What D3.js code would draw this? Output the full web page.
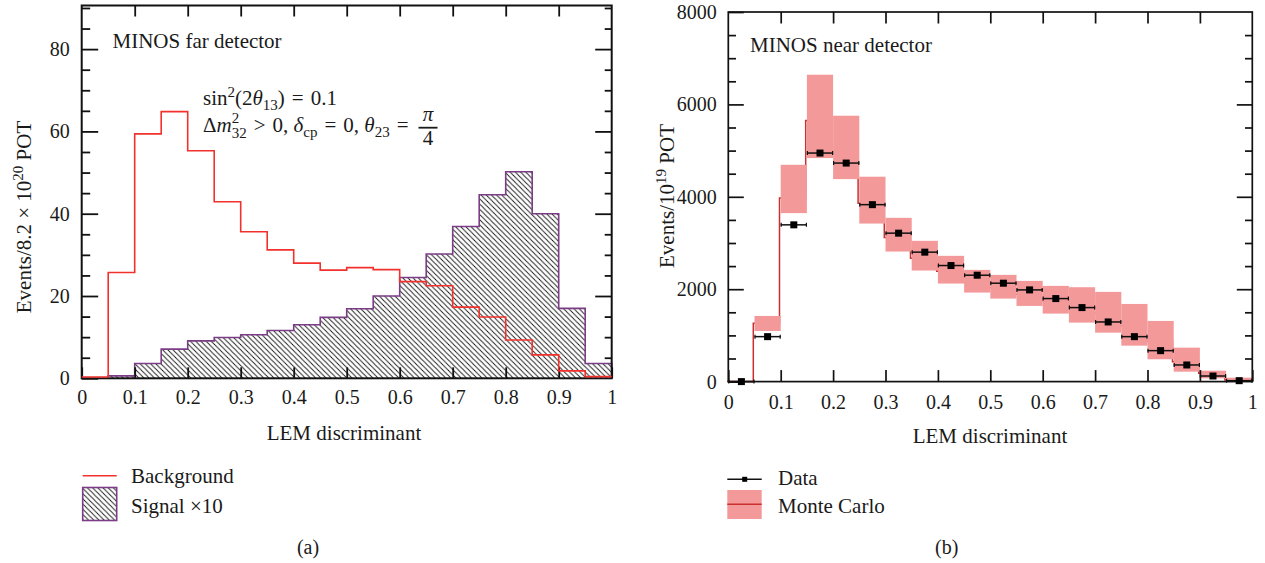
<!DOCTYPE html>
<html>
<head>
<meta charset="utf-8">
<script src="https://cdn.jsdelivr.net/npm/d3@7"></script>
<style>
  html, body { margin: 0; padding: 0; background: #fff; }
  svg { display: block; }
  text { font-family: 'Liberation Serif', 'Times New Roman', serif; fill: #1a1a1a; }
</style>
</head>
<body>
<svg id="chart" width="1265" height="563"></svg>
<script>
// LEM discriminant bins (width 0.05)
const binEdges = d3.range(0, 20).map(i => +(i * 0.05).toFixed(2));
const binWidth = 0.05;

// (a) MINOS far detector, events / 8.2e20 POT
const farBackground = [0.3, 25.7, 59.4, 64.8, 55.3, 42.9, 35.6, 31.2, 28.0, 26.3,
                       26.9, 26.4, 23.5, 22.5, 17.3, 14.9, 9.3, 5.7, 1.8, 0.4];
const farSignalX10 = [0, 0.6, 3.6, 7.1, 9.1, 9.9, 10.6, 11.6, 13.0, 14.8,
                      16.9, 20.0, 24.5, 30.2, 36.9, 44.6, 50.2, 40.0, 17.0, 3.6];

// (b) MINOS near detector, events / 1e19 POT
const nearData = [0, 973, 3393, 4947, 4730, 3830, 3213, 2802, 2512, 2303,
                  2130, 1985, 1797, 1602, 1291, 973, 670, 360, 121, 20];
const nearMC = [0, 1263, 3974, 5653, 5000, 3863, 3120, 2672, 2390, 2150,
                2030, 1890, 1750, 1640, 1480, 1210, 880, 430, 180, 35];
const nearMCLow = [0, 1096, 3647, 4838, 4383, 3421, 2815, 2404, 2122, 1927,
                   1797, 1638, 1472, 1277, 1060, 778, 483, 215, 71, 0];
const nearMCHigh = [0, 1421, 4693, 6642, 5755, 4435, 3545, 3047, 2722, 2418,
                    2310, 2180, 2072, 2043, 1942, 1681, 1313, 735, 236, 85];

// Axis ticks
const xTicks = [0, 0.1, 0.2, 0.3, 0.4, 0.5, 0.6, 0.7, 0.8, 0.9, 1];
const xTickLabels = ["0", "0.1", "0.2", "0.3", "0.4", "0.5", "0.6", "0.7", "0.8", "0.9", "1"];
const farYMajor = [0, 20, 40, 60, 80];
const farYMajorLabels = ["0", "20", "40", "60", "80"];
const farYMinor = d3.range(0, 91, 5).filter(v => v % 20 !== 0);
const farYMax = 90.6;
const nearYMajor = [0, 2000, 4000, 6000, 8000];
const nearYMajorLabels = ["0", "2000", "4000", "6000", "8000"];
const nearYMinor = d3.range(0, 8001, 500).filter(v => v % 2000 !== 0);

const svg = d3.select("#chart");
const RED = "#f2302c";
const PURPLE = "#7b3d86";
const MC_RED = "#c9302f";
const BAND = "#f4999a";
const SP = "\u2004"; // math-style spacing around relations

// hatch pattern for the signal histogram
const defs = svg.append("defs");
const pat = defs.append("pattern")
  .attr("id", "hatch").attr("patternUnits", "userSpaceOnUse")
  .attr("width", 5.2).attr("height", 5.2);
pat.append("path")
  .attr("d", "M-1,-1 L6.2,6.2 M3.7,-1.5 L6.7,1.5 M-1.5,3.7 L1.5,6.7")
  .attr("stroke", "#111").attr("stroke-width", 0.9);

function drawFrame(g, x, y, opt) {
  const [x0, x1] = x.range();
  const [y0, y1] = y.range();
  const fmt = (labels, ticks) => d => labels[ticks.indexOf(d)];
  // bottom axis (labels + inward ticks)
  const bottom = g.append("g").attr("transform", `translate(0,${y0})`)
    .call(d3.axisBottom(x).tickValues(xTicks).tickFormat(fmt(xTickLabels, xTicks))
      .tickSizeInner(-opt.xTick).tickSizeOuter(0).tickPadding(opt.xPad));
  // top axis (inward ticks only)
  const top = g.append("g").attr("transform", `translate(0,${y1})`)
    .call(d3.axisTop(x).tickValues(xTicks.slice(1, -1)).tickFormat("")
      .tickSizeInner(-opt.xTick).tickSizeOuter(0));
  // left axis
  const left = g.append("g").attr("transform", `translate(${x0},0)`)
    .call(d3.axisLeft(y).tickValues(opt.yMajor).tickFormat(fmt(opt.yLabels, opt.yMajor))
      .tickSizeInner(-opt.yMajorLen).tickSizeOuter(0).tickPadding(opt.yPad));
  const leftMinor = g.append("g").attr("transform", `translate(${x0},0)`)
    .call(d3.axisLeft(y).tickValues(opt.yMinor).tickFormat("")
      .tickSizeInner(-opt.yMinorLen).tickSizeOuter(0));
  // right axis
  const right = g.append("g").attr("transform", `translate(${x1},0)`)
    .call(d3.axisRight(y).tickValues(opt.yMajor.filter(v => v > 0 && v < y.domain()[1])).tickFormat("")
      .tickSizeInner(-opt.yMajorLen).tickSizeOuter(0));
  const rightMinor = g.append("g").attr("transform", `translate(${x1},0)`)
    .call(d3.axisRight(y).tickValues(opt.yMinor).tickFormat("")
      .tickSizeInner(-opt.yRightMinorLen).tickSizeOuter(0));
  [bottom, top, left, leftMinor, right, rightMinor].forEach(a => {
    a.select(".domain").remove();
    a.selectAll(".tick line").attr("stroke", "#111").attr("stroke-width", opt.tickW);
    a.selectAll("text").attr("font-size", 20).attr("fill", "#1a1a1a")
      .style("font-family", "'Liberation Serif','Times New Roman',serif");
  });
  g.append("rect")
    .attr("x", x0).attr("y", y1).attr("width", x1 - x0).attr("height", y0 - y1)
    .attr("fill", "none").attr("stroke", "#111").attr("stroke-width", opt.frameW);
}

function stepVertices(values, start) {
  const pts = [];
  values.forEach((v, i) => {
    if (i < start) return;
    pts.push([binEdges[i], v], [binEdges[i] + binWidth, v]);
  });
  return pts;
}

// ---------------- (a) far detector ----------------
{
  const x = d3.scaleLinear().domain([0, 1]).range([81.7, 611.7]);
  const y = d3.scaleLinear().domain([0, farYMax]).range([378.3, 5.5]);
  const g = svg.append("g");

  // signal x10: hatched area with purple outline
  const sigPts = [[binEdges[1], 0], ...stepVertices(farSignalX10, 1), [1, 0]];
  g.append("path")
    .attr("d", d3.area().x(d => x(d[0])).y0(y(0)).y1(d => y(d[1]))(sigPts))
    .attr("fill", "url(#hatch)");
  g.append("path")
    .attr("d", d3.line().x(d => x(d[0])).y(d => y(d[1]))(sigPts))
    .attr("fill", "none").attr("stroke", PURPLE).attr("stroke-width", 1.6);

  drawFrame(g, x, y, {
    xTick: 11, xPad: 11.5, yMajor: farYMajor, yLabels: farYMajorLabels, yMinor: farYMinor,
    yMajorLen: 16.5, yMinorLen: 8.5, yRightMinorLen: 7, yPad: 12, tickW: 1.8, frameW: 2
  });

  // background step line
  g.append("path")
    .attr("d", d3.line().x(d => x(d[0])).y(d => y(d[1]))(stepVertices(farBackground, 0)))
    .attr("fill", "none").attr("stroke", RED).attr("stroke-width", 1.6);

  g.append("text").attr("x", 112.5).attr("y", 48).attr("font-size", 21).text("MINOS far detector");

  // oscillation parameters
  const t1 = g.append("text").attr("x", 203).attr("y", 105).attr("font-size", 21);
  t1.append("tspan").text("sin");
  t1.append("tspan").attr("dy", -8).attr("font-size", 15).text("2");
  t1.append("tspan").attr("dy", 8).text("(2");
  t1.append("tspan").attr("font-style", "italic").text("θ");
  t1.append("tspan").attr("dy", 5).attr("font-size", 15).text("13");
  t1.append("tspan").attr("dy", -5).text(`)${SP}=${SP}0.1`);

  const t2 = g.append("text").attr("x", 203).attr("y", 132).attr("font-size", 21);
  t2.append("tspan").text("Δ");
  t2.append("tspan").attr("font-style", "italic").text("m");
  t2.append("tspan").attr("dy", -9).attr("font-size", 15).text("2");
  t2.append("tspan").attr("dy", 15).attr("dx", -7.5).attr("font-size", 15).text("32");
  t2.append("tspan").attr("dy", -6).text(`${SP}>${SP}0, `);
  t2.append("tspan").attr("font-style", "italic").text("δ");
  t2.append("tspan").attr("dy", 5).attr("font-size", 15).text("cp");
  t2.append("tspan").attr("dy", -5).text(`${SP}=${SP}0, `);
  t2.append("tspan").attr("font-style", "italic").text("θ");
  t2.append("tspan").attr("dy", 5).attr("font-size", 15).text("23");
  t2.append("tspan").attr("dy", -5).text(`${SP}=`);
  g.append("text").attr("x", 428).attr("y", 121).attr("font-size", 21)
    .attr("font-style", "italic").attr("text-anchor", "middle").text("π");
  g.append("line").attr("x1", 418.5).attr("x2", 437.5).attr("y1", 127.7).attr("y2", 127.7)
    .attr("stroke", "#1a1a1a").attr("stroke-width", 1.8);
  g.append("text").attr("x", 428).attr("y", 145).attr("font-size", 21)
    .attr("text-anchor", "middle").text("4");

  // axis titles
  g.append("text").attr("x", 344).attr("y", 440).attr("font-size", 21)
    .attr("text-anchor", "middle").text("LEM discriminant");
  const yl = g.append("text").attr("transform", "translate(31,217) rotate(-90)")
    .attr("font-size", 21).attr("text-anchor", "middle");
  yl.append("tspan").text("Events/8.2 × 10");
  yl.append("tspan").attr("dy", -8).attr("font-size", 15).text("20");
  yl.append("tspan").attr("dy", 8).text(" POT");

  // legend
  g.append("line").attr("x1", 82.7).attr("x2", 116.7).attr("y1", 475.7).attr("y2", 475.7)
    .attr("stroke", RED).attr("stroke-width", 1.6);
  g.append("text").attr("x", 131).attr("y", 483).attr("font-size", 21).text("Background");
  g.append("rect").attr("x", 82.7).attr("y", 487.5).attr("width", 34).attr("height", 33)
    .attr("fill", "url(#hatch)").attr("stroke", PURPLE).attr("stroke-width", 1.6);
  g.append("text").attr("x", 131).attr("y", 513).attr("font-size", 21).text("Signal ×10");
  g.append("text").attr("x", 308).attr("y", 554).attr("font-size", 20)
    .attr("text-anchor", "middle").text("(a)");
}

// ---------------- (b) near detector ----------------
{
  const x = d3.scaleLinear().domain([0, 1]).range([728.3, 1252.3]);
  const y = d3.scaleLinear().domain([0, 8000]).range([381.6, 12]);
  const g = svg.append("g");

  // Monte Carlo central histogram (sits under the error band)
  g.append("path")
    .attr("transform", "translate(-1.2,0)")
    .attr("d", d3.line().x(d => x(d[0])).y(d => y(d[1]))(stepVertices(nearMC, 0)))
    .attr("fill", "none").attr("stroke", MC_RED).attr("stroke-width", 1.5);

  // Monte Carlo uncertainty band
  g.selectAll("rect.band").data(binEdges.filter((e, i) => nearMCHigh[i] > nearMCLow[i]))
    .join("rect").attr("class", "band")
    .attr("x", e => x(e)).attr("width", x(binWidth) - x(0))
    .attr("y", e => y(nearMCHigh[binEdges.indexOf(e)]))
    .attr("height", e => y(nearMCLow[binEdges.indexOf(e)]) - y(nearMCHigh[binEdges.indexOf(e)]))
    .attr("fill", BAND);

  drawFrame(g, x, y, {
    xTick: 11.5, xPad: 13, yMajor: nearYMajor, yLabels: nearYMajorLabels, yMinor: nearYMinor,
    yMajorLen: 15.5, yMinorLen: 7.7, yRightMinorLen: 7.3, yPad: 11.5, tickW: 1.7, frameW: 1.7
  });

  // data points with bin-width error bars
  const pts = g.selectAll("g.pt").data(nearData.map((v, i) => ({ x0: binEdges[i], v })))
    .join("g").attr("class", "pt");
  pts.append("line")
    .attr("x1", d => x(d.x0)).attr("x2", d => x(d.x0 + binWidth))
    .attr("y1", d => y(d.v)).attr("y2", d => y(d.v))
    .attr("stroke", "#111").attr("stroke-width", 1.5);
  pts.append("line")
    .attr("x1", d => x(d.x0) + 0.5).attr("x2", d => x(d.x0) + 0.5)
    .attr("y1", d => y(d.v) - 2).attr("y2", d => y(d.v) + 2)
    .attr("stroke", "#111").attr("stroke-width", 1.2);
  pts.append("line")
    .attr("x1", d => x(d.x0 + binWidth) - 0.5).attr("x2", d => x(d.x0 + binWidth) - 0.5)
    .attr("y1", d => y(d.v) - 2).attr("y2", d => y(d.v) + 2)
    .attr("stroke", "#111").attr("stroke-width", 1.2);
  pts.append("rect")
    .attr("x", d => x(d.x0 + binWidth / 2) - 3.5).attr("y", d => y(d.v) - 3.5)
    .attr("width", 7).attr("height", 7).attr("fill", "#000");

  g.append("text").attr("x", 750).attr("y", 52).attr("font-size", 21).text("MINOS near detector");

  g.append("text").attr("x", 990).attr("y", 443).attr("font-size", 21)
    .attr("text-anchor", "middle").text("LEM discriminant");
  const yl = g.append("text").attr("transform", "translate(674,196) rotate(-90)")
    .attr("font-size", 21).attr("text-anchor", "middle");
  yl.append("tspan").text("Events/10");
  yl.append("tspan").attr("dy", -8).attr("font-size", 15).text("19");
  yl.append("tspan").attr("dy", 8).text(" POT");

  // legend
  g.append("line").attr("x1", 727.3).attr("x2", 761.7).attr("y1", 479.3).attr("y2", 479.3)
    .attr("stroke", "#111").attr("stroke-width", 1.5);
  g.append("rect").attr("x", 742.2).attr("y", 476.8).attr("width", 5).attr("height", 5).attr("fill", "#000");
  g.append("text").attr("x", 778).attr("y", 485).attr("font-size", 21).text("Data");
  g.append("rect").attr("x", 727.3).attr("y", 490).attr("width", 34.4).attr("height", 29).attr("fill", BAND);
  g.append("line").attr("x1", 727.3).attr("x2", 761.7).attr("y1", 504.3).attr("y2", 504.3)
    .attr("stroke", MC_RED).attr("stroke-width", 1.5);
  g.append("text").attr("x", 778).attr("y", 512.5).attr("font-size", 21).text("Monte Carlo");
  g.append("text").attr("x", 946.7).attr("y", 554).attr("font-size", 20)
    .attr("text-anchor", "middle").text("(b)");
}
</script>
</body>
</html>
